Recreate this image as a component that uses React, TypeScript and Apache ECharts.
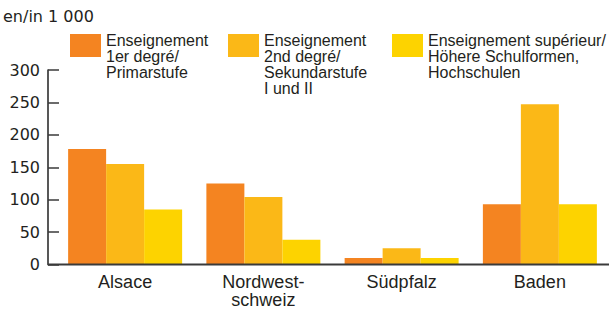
import React, { useEffect, useRef } from "react";
import * as echarts from "echarts";

const categories = ["Alsace", "Nordwest-\nschweiz", "Südpfalz", "Baden"];
const seriesNames = [
  "Enseignement\n1er degré/\nPrimarstufe",
  "Enseignement\n2nd degré/\nSekundarstufe\nI und II",
  "Enseignement supérieur/\nHöhere Schulformen,\nHochschulen",
];
const primaryValues = [178, 125, 10, 93];
const secondaryValues = [155, 104, 25, 247];
const higherValues = [85, 38, 10, 93];
const unitLabel = "en/in 1 000";
const yMin = 0;
const yMax = 300;
const yStep = 50;

const COLORS = ["#F48421", "#FBB817", "#FDD300"];
const TEXT = "#231F20";
const AXIS = "#3a3a3a";
const LEGEND_X = [70, 228, 392];

export default function App() {
  const ref = useRef<HTMLDivElement>(null);
  useEffect(() => {
    if (!ref.current) return;
    const chart = echarts.init(ref.current, null, { renderer: "svg" });
    const allValues = [primaryValues, secondaryValues, higherValues];
    const legendGraphics: any[] = [];
    seriesNames.forEach((name, i) => {
      legendGraphics.push({
        type: "rect",
        shape: { x: LEGEND_X[i], y: 34, width: 31, height: 23 },
        style: { fill: COLORS[i] },
      });
      legendGraphics.push({
        type: "text",
        x: LEGEND_X[i] + 36,
        y: 32,
        style: {
          text: name,
          fontFamily: "Liberation Sans, Arial, sans-serif",
          fontSize: 16,
          lineHeight: 16,
          fill: TEXT,
          verticalAlign: "top",
          align: "left",
        },
      });
    });
    chart.setOption({
      animation: false,
      grid: { left: 56, right: -13, top: 70, bottom: 45.5, containLabel: false },
      xAxis: {
        type: "category",
        data: categories,
        axisLine: { show: false },
        axisTick: { show: false },
        axisLabel: {
          fontFamily: "Liberation Sans, Arial, sans-serif",
          fontSize: 18,
          lineHeight: 18,
          color: TEXT,
          margin: 8,
          interval: 0,
        },
      },
      yAxis: {
        type: "value",
        min: yMin,
        max: yMax,
        interval: yStep,
        offset: 8,
        axisLine: { show: true, lineStyle: { color: AXIS, width: 1.7 } },
        axisTick: { show: true, inside: true, length: 11, lineStyle: { color: AXIS, width: 1.5 } },
        splitLine: { show: false },
        axisLabel: {
          fontFamily: "DejaVu Sans, sans-serif",
          fontSize: 16,
          color: TEXT,
          margin: 8,
          padding: [4, 0, 0, 0],
        },
      },
      series: allValues.map((vals, i) => ({
        type: "bar",
        name: seriesNames[i],
        data: vals,
        barWidth: 38,
        barGap: "0%",
        itemStyle: { color: COLORS[i] },
      })),
      graphic: [
        {
          type: "text",
          x: 3,
          y: 8,
          style: {
            text: unitLabel,
            fontFamily: "DejaVu Sans, sans-serif",
            fontSize: 16,
            lineHeight: 16,
            fill: TEXT,
            verticalAlign: "top",
          },
        },
        {
          type: "line",
          shape: { x1: 48, y1: 264.5, x2: 609, y2: 264.5 },
          style: { stroke: AXIS, lineWidth: 2 },
          z: 10,
        },
        ...legendGraphics,
      ],
    });
    return () => chart.dispose();
  }, []);
  return (
    <div
      ref={ref}
      style={{ position: "absolute", left: 0, top: 0, width: 609, height: 310, background: "#fff" }}
    />
  );
}
